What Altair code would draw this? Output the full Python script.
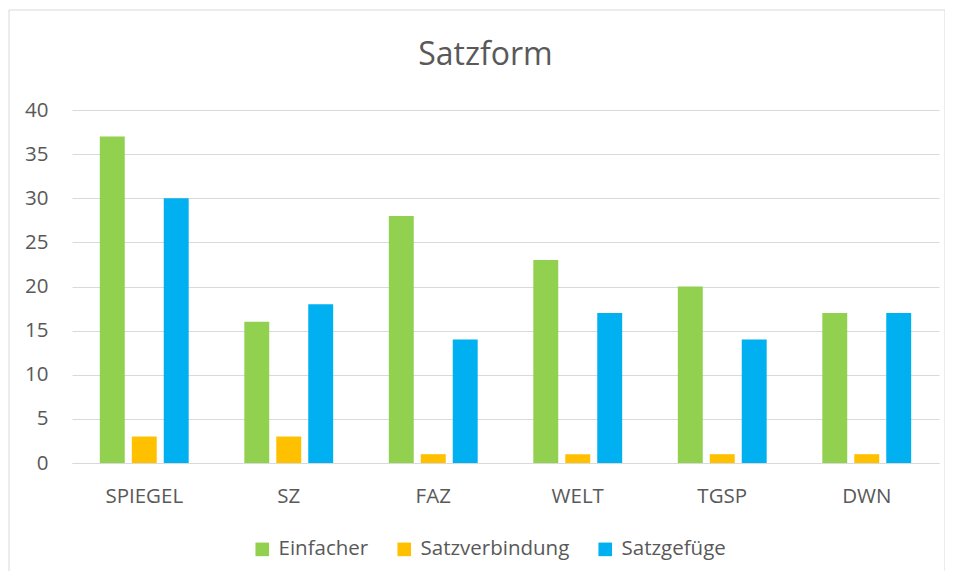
import altair as alt
import pandas as pd

categories = ["SPIEGEL", "SZ", "FAZ", "WELT", "TGSP", "DWN"]
series = ["Einfacher", "Satzverbindung", "Satzgefüge"]
einfacher = [37, 16, 28, 23, 20, 17]
satzverbindung = [3, 3, 1, 1, 1, 1]
satzgefuege = [30, 18, 14, 17, 14, 17]
colors = ["#92D050", "#FFC000", "#00B0F0"]

rows = []
for i, c in enumerate(categories):
    for s, vals in zip(series, [einfacher, satzverbindung, satzgefuege]):
        rows.append({"Zeitung": c, "Satzform": s, "Wert": vals[i]})
df = pd.DataFrame(rows)

FONT = "Open Sans"
GREY = "#595959"

bars = alt.Chart(df).mark_bar().encode(
    x=alt.X("Zeitung:N", sort=categories, title=None,
            scale=alt.Scale(paddingInner=0, paddingOuter=0),
            axis=alt.Axis(labelAngle=0, ticks=False, domainColor="#D9D9D9",
                          labelFontSize=20.5, labelColor=GREY, labelFont=FONT,
                          labelPadding=23, grid=False)),
    xOffset=alt.XOffset("Satzform:N", sort=series,
                        scale=alt.Scale(paddingInner=0.22, paddingOuter=0.87)),
    y=alt.Y("Wert:Q", title=None,
            scale=alt.Scale(domain=[0, 40], nice=False),
            axis=alt.Axis(values=[0, 5, 10, 15, 20, 25, 30, 35, 40], ticks=False,
                          domain=False, gridColor="#D9D9D9", labelFontSize=20.5,
                          labelColor=GREY, labelFont=FONT, labelPadding=24)),
    color=alt.Color("Satzform:N", sort=series,
                    scale=alt.Scale(domain=series, range=colors),
                    legend=alt.Legend(title=None, orient="none", direction="horizontal",
                                      legendX=180, legendY=429, symbolType="square",
                                      symbolSize=185, symbolStrokeWidth=0,
                                      labelFontSize=20.5, labelColor=GREY, labelFont=FONT,
                                      columnPadding=25, labelOffset=6)),
)

frame = alt.Chart(pd.DataFrame({"a": [0]})).mark_rect(
    fill=None, stroke="#D9D9D9", strokeWidth=1
).encode(x=alt.value(-63), x2=alt.value(873), y=alt.value(-100), y2=alt.value(468))

chart = alt.layer(frame, bars).properties(
    width=867, height=353,
    autosize=alt.AutoSizeParams(type="none"),
    padding={"left": 64, "top": 102, "right": 6, "bottom": 108},
    title=alt.TitleParams("Satzform", fontSize=32, font=FONT, color=GREY,
                          fontWeight="normal", anchor="middle", dx=-20,
                          offset=-87, baseline="alphabetic"),
).configure_view(stroke=None)

chart.save("out.html", embed_options={"renderer": "svg", "actions": False})
